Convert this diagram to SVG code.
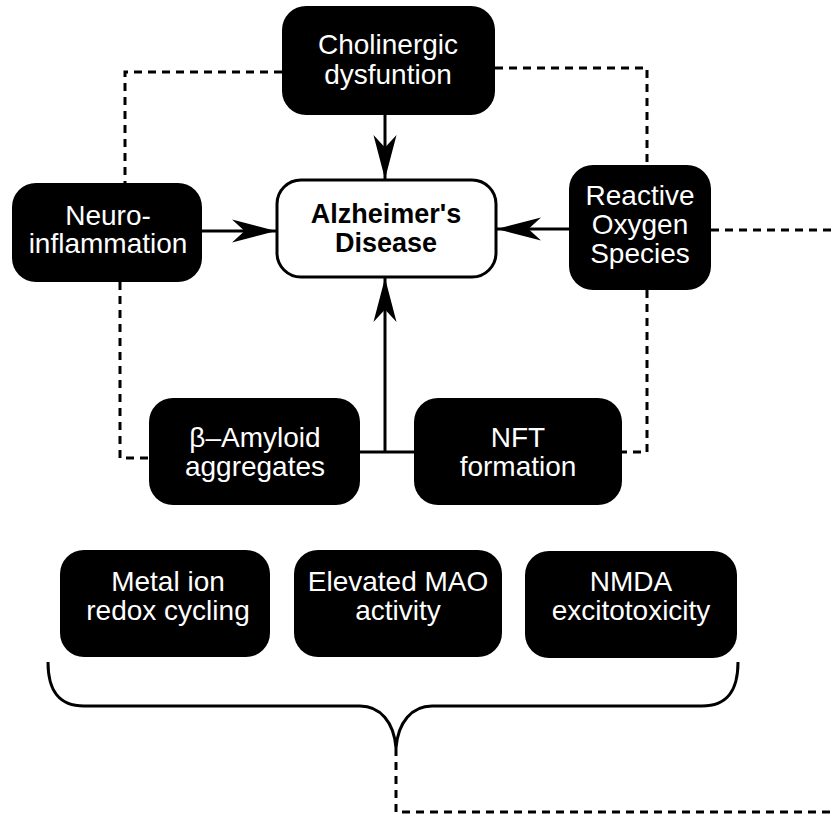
<svg xmlns="http://www.w3.org/2000/svg" width="836" height="816" viewBox="0 0 836 816">
<style>
.box{fill:#000}
.t{fill:#fff;font-family:"Liberation Sans",Arial,sans-serif;font-size:28px;text-anchor:middle}
.c{fill:#000;font-family:"Liberation Sans",Arial,sans-serif;font-size:27px;font-weight:bold;text-anchor:middle}
.s{fill:none;stroke:#000;stroke-width:3}
.d{fill:none;stroke:#000;stroke-width:3;stroke-dasharray:8 6}
</style>
<defs>
<marker id="ah" markerUnits="userSpaceOnUse" markerWidth="44" markerHeight="24" refX="42" refY="11" orient="auto" viewBox="0 0 42 22">
<path d="M0,0 L42,11 L0,22 L12,11 Z" fill="#000"/>
</marker>
</defs>
<g id="connectors">
<path class="d" d="M282,72 H125 V183"/>
<path class="d" d="M120,282 V458 H149"/>
<path class="d" d="M495,68 H647 V165"/>
<path class="d" d="M647,290 V452 H622"/>
<path class="d" d="M711,230 H836"/>
<path class="d" d="M396,748 V812 H836"/>
<path class="s" d="M385,115 V179" marker-end="url(#ah)"/>
<path class="s" d="M202,231 H276" marker-end="url(#ah)"/>
<path class="s" d="M569,229 H497" marker-end="url(#ah)"/>
<path class="s" d="M385,452 V278" marker-end="url(#ah)"/>
<path class="s" d="M360,452 H414"/>
<path class="s" d="M48,662 C48,690 58,706 84,706 H360 C380,706 394,722 396,748 C398,722 412,706 432,706 H702 C728,706 738,690 738,662"/>
</g>
<g id="cholinergic"><rect class="box" x="282" y="6" width="213" height="109" rx="24"/><text class="t" x="388" y="54">Cholinergic</text><text class="t" x="388" y="84">dysfuntion</text></g>
<g id="alzheimers"><rect x="277" y="180" width="219" height="97" rx="24" fill="#fff" stroke="#000" stroke-width="3"/><text class="c" x="386" y="223">Alzheimer's</text><text class="c" x="386" y="252">Disease</text></g>
<g id="neuro"><rect class="box" x="12" y="183" width="190" height="99" rx="24"/><text class="t" x="108" y="225">Neuro-</text><text class="t" x="108" y="253">inflammation</text></g>
<g id="ros"><rect class="box" x="569" y="165" width="142" height="125" rx="24"/><text class="t" x="640" y="205">Reactive</text><text class="t" x="640" y="234">Oxygen</text><text class="t" x="640" y="263">Species</text></g>
<g id="amyloid"><rect class="box" x="149" y="398" width="211" height="107" rx="24"/><text class="t" x="255" y="447">β–Amyloid</text><text class="t" x="255" y="476">aggregates</text></g>
<g id="nft"><rect class="box" x="414" y="398" width="208" height="107" rx="24"/><text class="t" x="518" y="447">NFT</text><text class="t" x="518" y="476">formation</text></g>
<g id="metal"><rect class="box" x="60" y="550" width="210" height="107" rx="24"/><text class="t" x="168" y="591">Metal ion</text><text class="t" x="168" y="620">redox cycling</text></g>
<g id="mao"><rect class="box" x="294" y="550" width="208" height="107" rx="24"/><text class="t" x="398" y="591">Elevated MAO</text><text class="t" x="398" y="620">activity</text></g>
<g id="nmda"><rect class="box" x="525" y="551" width="212" height="107" rx="24"/><text class="t" x="631" y="591">NMDA</text><text class="t" x="631" y="620">excitotoxicity</text></g>
</svg>
